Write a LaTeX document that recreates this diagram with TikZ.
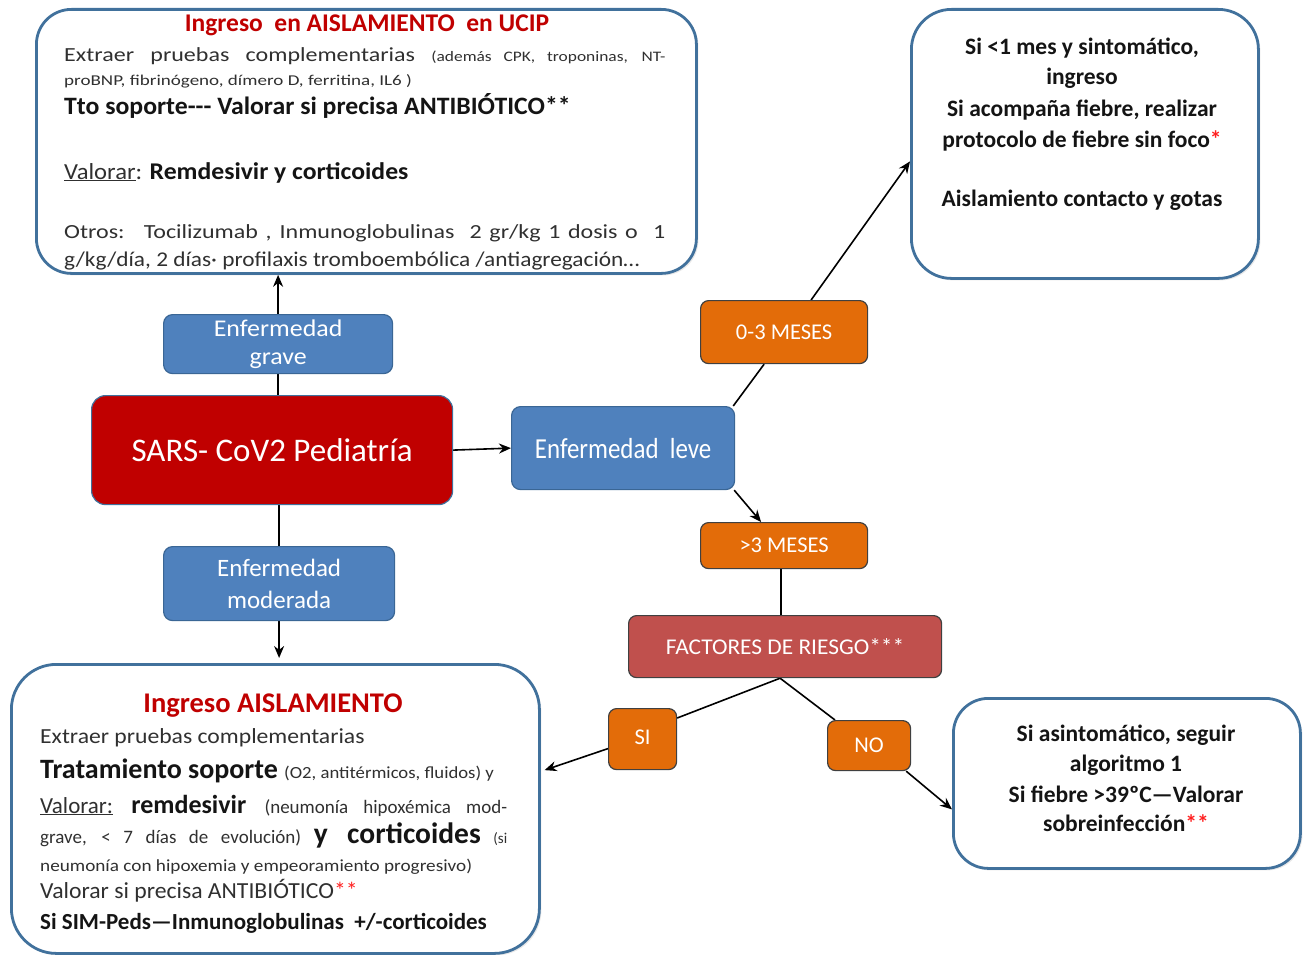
\documentclass[tikz,border=0pt]{standalone}
\usepackage{fontspec}
\setmainfont{Carlito}
\usetikzlibrary{arrows.meta,backgrounds,calc,shadows}
\definecolor{boxblue}{HTML}{41719C}
\definecolor{nodeblue}{HTML}{4F81BD}
\definecolor{nodeborder}{HTML}{3A6695}
\definecolor{sarsred}{HTML}{C00000}
\definecolor{titlered}{HTML}{C00000}
\definecolor{orng}{HTML}{E36C09}
\definecolor{factred}{HTML}{C0504D}
\definecolor{txtgray}{HTML}{303030}
\definecolor{txtdark}{HTML}{141414}
\definecolor{starred}{HTML}{FF2020}
\newcommand\setfs[1]{\fontsize{#1}{#1}\selectfont}
\newcommand\hsc[2]{\scalebox{#1}[1]{#2}}
\begin{document}
\begin{tikzpicture}[x=1pt,y=-1pt,
  bigbox/.style={draw=boxblue, line width=2.8pt, rounded corners=35pt, fill=white, anchor=north west, inner sep=0,
                 drop shadow={opacity=0.18, shadow xshift=2pt, shadow yshift=-2pt}},
  bluenode/.style={draw=nodeborder, line width=1.2pt, fill=nodeblue, rounded corners=9pt, anchor=north west, inner sep=0, text=white, align=center},
  orangenode/.style={draw=black!75, line width=1.2pt, fill=orng, rounded corners=8pt, anchor=north west, inner sep=0, text=white, align=center, font=\setfs{22.5}},
  txt/.style={anchor=base west, inner sep=0, text=txtgray},
  ctxt/.style={anchor=base, inner sep=0, text=txtdark, font=\bfseries\setfs{23.5}},
  conn/.style={line width=1.6pt, draw=black},
  arr/.style={conn, -{Stealth[length=12pt,width=10pt]}}]
\useasboundingbox (0,0) rectangle (1303,955);

% ---------- boxes ----------
\node[bigbox, minimum width=660, minimum height=264] (ucip) at (35,8) {};
\node[bigbox, rounded corners=40pt, minimum width=347, minimum height=269] (tr) at (910,8) {};
\node[bigbox, rounded corners=45pt, minimum width=528, minimum height=289] (bl) at (10,663) {};
\node[bigbox, minimum width=347, minimum height=170] (br) at (952,697) {};

\node[bluenode, minimum width=229, minimum height=59, font=\fontsize{24}{28}\selectfont] (grave) at (163,314) {\hsc{1.08}{Enfermedad}\\\hsc{1.08}{grave}};
\node[draw=boxblue, line width=1.2pt, fill=sarsred, rounded corners=14pt, anchor=north west, inner sep=0, text=white,
      minimum width=361, minimum height=109, font=\setfs{33}] (sars) at (91,395) {SARS- CoV2 Pediatría};
\node[bluenode, minimum width=223, minimum height=83, font=\setfs{29}] (leve) at (511,406) {\hsc{0.86}{Enfermedad\ \ leve}};
\node[bluenode, minimum width=231, minimum height=74, font=\fontsize{25}{32}\selectfont] (mod) at (163,546) {Enfermedad\\moderada};

\node[orangenode, minimum width=167, minimum height=63] (m03) at (700,300) {0-3 MESES};
\node[orangenode, minimum width=167, minimum height=46] (m3) at (700,522) {>3 MESES};
\node[orangenode, fill=factred, minimum width=313, minimum height=62] (fr) at (628,615) {\hsc{1.04}{FACTORES DE RIESGO***}};
\node[orangenode, minimum width=68, minimum height=61] (si) at (608,708) {\raisebox{4pt}{SI}};
\node[orangenode, minimum width=83, minimum height=50] (no) at (827,720) {NO};

% ---------- connectors ----------
\begin{pgfonlayer}{background}
\draw[arr] (sars.north -| grave) -- (ucip.south -| grave);
\draw[arr] (sars.south -| mod) -- ([yshift=5pt]bl.north -| mod);
\draw[arr] (sars.east) -- (leve.west);
\draw[conn] ([xshift=-2pt]leve.north east) -- ([xshift=-20pt]m03.south);
\draw[arr] ([xshift=27pt]m03.north) -- ([yshift=-17.5pt]tr.west);
\draw[arr] ([xshift=-1pt]leve.south east) -- ([xshift=-23pt]m3.north);
\draw[conn] ([xshift=-3pt]m3.south) -- ([xshift=-3pt]m3.south |- fr.north);
\draw[conn] ([xshift=-5pt]fr.south) -- ([yshift=-10pt]si.north east);
\draw[arr, shorten >=4pt] ([yshift=-9.5pt]si.west) -- ([yshift=37.5pt]bl.east);
\draw[conn] ([xshift=-5pt]fr.south) -- ([xshift=8pt]no.north west);
\draw[arr] ([xshift=-5pt]no.south east) -- ([yshift=-26pt]br.west);
\end{pgfonlayer}

% ---------- texts: UCIP box ----------
\node[ctxt, text=titlered, font=\bfseries\setfs{25.5}] (t0) at (367,32) {Ingreso\ \ en AISLAMIENTO\ \ en UCIP};
\node[txt, font=\setfs{20}] (t1) at (64,62) {\hsc{1.2}{\makebox[501pt][s]{Extraer pruebas complementarias {\setfs{14.5}(además CPK, troponinas, NT-}}}};
\node[txt, font=\setfs{15}] (t2) at (64,86) {\hsc{1.27}{proBNP, fibrinógeno, dímero D, ferritina, IL6 )}};
\node[txt, text=txtdark, font=\bfseries\setfs{25}] (t3) at (64,115) {\hsc{1.03}{Tto soporte-{}-{}- Valorar si precisa ANTIBIÓTICO**}};
\node[txt, font=\setfs{23}] (t4) at (64,179) {\hsc{1.07}{\underline{Valorar}: {\bfseries\color{txtdark}\setfs{24}Remdesivir y corticoides}}};
\node[txt, font=\setfs{20}] (t5) at (64,238) {\hsc{1.2}{\makebox[501pt][s]{Otros: \ Tocilizumab , Inmunoglobulinas \ 2 gr/kg 1 dosis o \ 1}}};
\node[txt, font=\setfs{21}] (t6) at (64,266) {\hsc{1.11}{g/kg/día, 2 días· profilaxis tromboembólica /antiagregación…}};

% ---------- texts: top right ----------
\node[ctxt] (r1) at (1082,55) {Si <1 mes y sintomático,};
\node[ctxt] (r2) at (1082,85) {ingreso};
\node[ctxt] (r3) at (1082,117) {Si acompaña fiebre, realizar};
\node[ctxt] (r4) at (1082,147) {protocolo de fiebre sin foco\textcolor{starred}{*}};
\node[ctxt] (r5) at (1082,206) {Aislamiento contacto y gotas};

% ---------- texts: bottom right ----------
\node[ctxt] (s1) at (1126,741) {Si asintomático, seguir};
\node[ctxt] (s2) at (1126,771) {algoritmo 1};
\node[ctxt] (s3) at (1126,802) {Si fiebre >39ºC—Valorar};
\node[ctxt] (s4) at (1126,831) {sobreinfección\textcolor{starred}{**}};

% ---------- texts: bottom left ----------
\node[ctxt, text=titlered, font=\bfseries\setfs{28.5}] (b0) at (273,712) {Ingreso AISLAMIENTO};
\node[txt, font=\setfs{21.5}] (b1) at (40,743) {\hsc{1.1}{Extraer pruebas complementarias}};
\node[txt, text=txtdark, font=\bfseries\setfs{28}] (b2) at (40,778) {Tratamiento soporte {\mdseries\color{txtgray}\setfs{17}\hsc{1.1}{(O2, antitérmicos, fluidos) y}}};
\node[txt, font=\setfs{23}] (b3) at (40,813) {\makebox[467pt][s]{\underline{Valorar:} {\bfseries\color{txtdark}\setfs{26}remdesivir} {\setfs{19}(neumonía hipoxémica mod-}}};
\node[txt, font=\setfs{19}] (b4) at (40,843) {\makebox[467pt][s]{grave, < 7 días de evolución) {\bfseries\color{txtdark}\setfs{29.5}y corticoides} {\setfs{15}(si}}};
\node[txt, font=\setfs{17}] (b5) at (40,871) {\hsc{1.13}{neumonía con hipoxemia y empeoramiento progresivo)}};
\node[txt, font=\setfs{23}] (b6) at (40,898) {\hsc{1.03}{Valorar si precisa ANTIBIÓTICO\textcolor{starred}{**}}};
\node[txt, text=txtdark, font=\bfseries\setfs{23}] (b7) at (40,929) {Si SIM-Peds—Inmunoglobulinas \ +/-corticoides};
\end{tikzpicture}
\end{document}
